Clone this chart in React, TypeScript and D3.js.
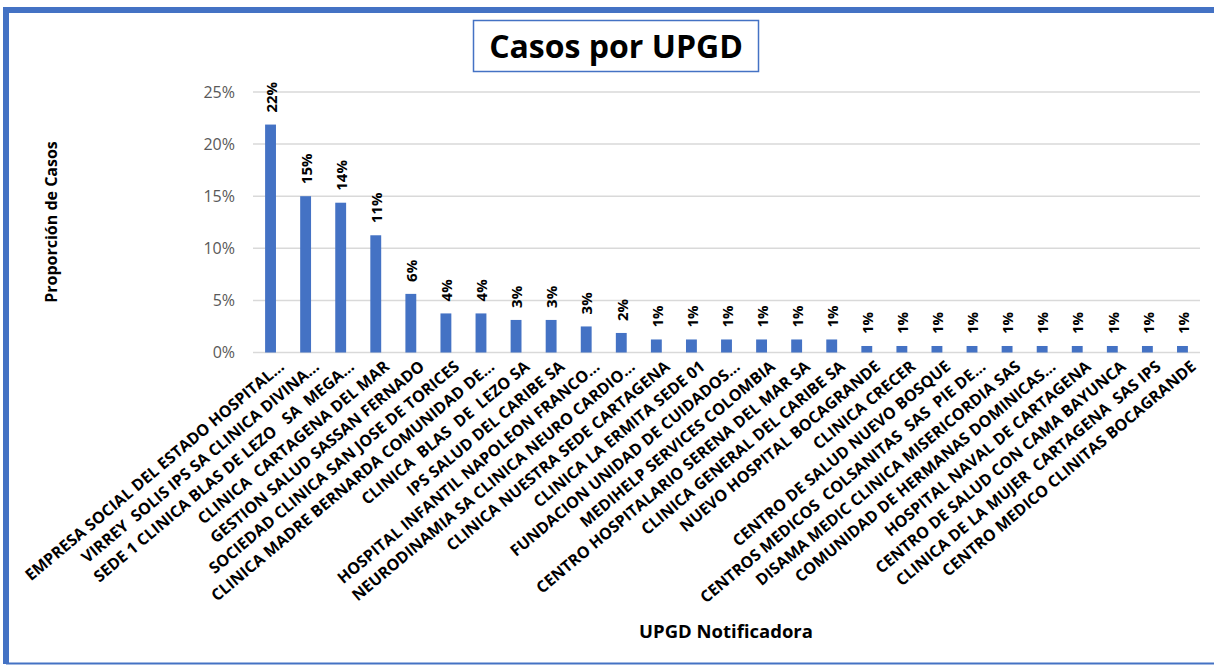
import React from "react";
import * as d3 from "d3";

const categories: string[] = [
  "EMPRESA SOCIAL DEL ESTADO HOSPITAL...",
  "VIRREY  SOLIS IPS SA CLINICA DIVINA...",
  "SEDE 1 CLINICA BLAS DE LEZO   SA  MEGA...",
  "CLINICA  CARTAGENA DEL MAR",
  "GESTION SALUD SASSAN FERNADO",
  "SOCIEDAD CLINICA SAN JOSE DE TORICES",
  "CLINICA MADRE BERNARDA COMUNIDAD DE...",
  "CLINICA  BLAS  DE  LEZO SA",
  "IPS SALUD DEL CARIBE SA",
  "HOSPITAL INFANTIL NAPOLEON FRANCO...",
  "NEURODINAMIA SA CLINICA NEURO CARDIO...",
  "CLINICA NUESTRA SEDE CARTAGENA",
  "CLINICA LA ERMITA SEDE 01",
  "FUNDACION UNIDAD DE CUIDADOS...",
  "MEDIHELP SERVICES COLOMBIA",
  "CENTRO HOSPITALARIO SERENA DEL MAR SA",
  "CLINICA GENERAL DEL CARIBE SA",
  "NUEVO HOSPITAL BOCAGRANDE",
  "CLINICA CRECER",
  "CENTRO DE SALUD NUEVO BOSQUE",
  "CENTROS MEDICOS  COLSANITAS  SAS  PIE DE...",
  "DISAMA MEDIC CLINICA MISERICORDIA SAS",
  "COMUNIDAD DE HERMANAS DOMINICAS...",
  "HOSPITAL NAVAL DE CARTAGENA",
  "CENTRO DE SALUD CON CAMA BAYUNCA",
  "CLINICA DE LA MUJER  CARTAGENA  SAS IPS",
  "CENTRO MEDICO CLINITAS BOCAGRANDE",
];

const proportions: number[] = [
  0.21875, 0.15, 0.14375, 0.1125, 0.05625, 0.0375, 0.0375, 0.03125, 0.03125,
  0.025, 0.01875, 0.0125, 0.0125, 0.0125, 0.0125, 0.0125, 0.0125, 0.00625,
  0.00625, 0.00625, 0.00625, 0.00625, 0.00625, 0.00625, 0.00625, 0.00625,
  0.00625,
];

const yTicks: number[] = [0, 0.05, 0.1, 0.15, 0.2, 0.25];

const W = 1214;
const H = 665;
const FONT = "'Open Sans', 'DejaVu Sans', sans-serif";

export default function App() {
  const x = d3
    .scaleBand<string>()
    .domain(categories)
    .range([253, 1200])
    .paddingInner(0.69)
    .paddingOuter(0.345);
  const y = d3.scaleLinear().domain([0, 0.25]).range([352.5, 92]);
  const pct = (v: number) => `${Math.round(v * 100)}%`;

  return (
    <svg
      width={W}
      height={H}
      style={{ position: "absolute", left: 0, top: 0, background: "#fff" }}
      fontFamily={FONT}
    >
      <rect x={0} y={0} width={W} height={H} fill="#fff" />
      {/* outer frame */}
      <path d={`M6,664 L6,10 L${W},10`} fill="none" stroke="#4472C4" strokeWidth={6} />
      <line x1={6} x2={W} y1={663.5} y2={663.5} stroke="#4472C4" strokeWidth={2} />

      {/* title */}
      <rect x={473.5} y={20.5} width={285} height={51} fill="#fff" stroke="#4472C4" strokeWidth={1.5} />
      <text x={616} y={58} textAnchor="middle" fontSize={32} fontWeight={700} fill="#000">
        Casos por UPGD
      </text>

      {/* gridlines */}
      {yTicks.map((t) => (
        <line key={t} x1={253} x2={1200} y1={y(t)} y2={y(t)} stroke="#d9d9d9" strokeWidth={1.5} />
      ))}
      {/* y tick labels */}
      {yTicks.map((t) => (
        <text key={"l" + t} x={235} y={y(t)} dy="0.35em" textAnchor="end" fontSize={16} fill="#595959">
          {pct(t)}
        </text>
      ))}

      {/* bars */}
      {categories.map((c, i) => (
        <rect
          key={c}
          x={x(c)}
          y={y(proportions[i])}
          width={x.bandwidth()}
          height={y(0) - y(proportions[i])}
          fill="#4472C4"
        />
      ))}

      {/* data labels */}
      {categories.map((c, i) => {
        const cx = (x(c) as number) + x.bandwidth() / 2;
        const ty = y(proportions[i]) - 12;
        return (
          <text
            key={"d" + c}
            transform={`translate(${cx + 1},${ty}) rotate(-90)`}
            dy="0.35em"
            fontSize={15}
            fontWeight={700}
            fill="#000"
          >
            {pct(proportions[i])}
          </text>
        );
      })}

      {/* category labels */}
      {categories.map((c) => {
        const cx = (x(c) as number) + x.bandwidth() / 2;
        return (
          <text
            key={"c" + c}
            transform={`translate(${cx + 11},${364}) rotate(-40)`}
            dy="0.35em"
            textAnchor="end"
            fontSize={16}
            fontWeight={700}
            fill="#000"
            style={{ whiteSpace: "pre" }}
          >
            {c}
          </text>
        );
      })}

      {/* axis titles */}
      <text transform="translate(51,222) rotate(-90)" dy="0.35em" textAnchor="middle" fontSize={16} fontWeight={700} fill="#000">
        Proporción de Casos
      </text>
      <text x={726} y={632} dy="0.35em" textAnchor="middle" fontSize={18.5} fontWeight={700} fill="#000">
        UPGD Notificadora
      </text>
    </svg>
  );
}
